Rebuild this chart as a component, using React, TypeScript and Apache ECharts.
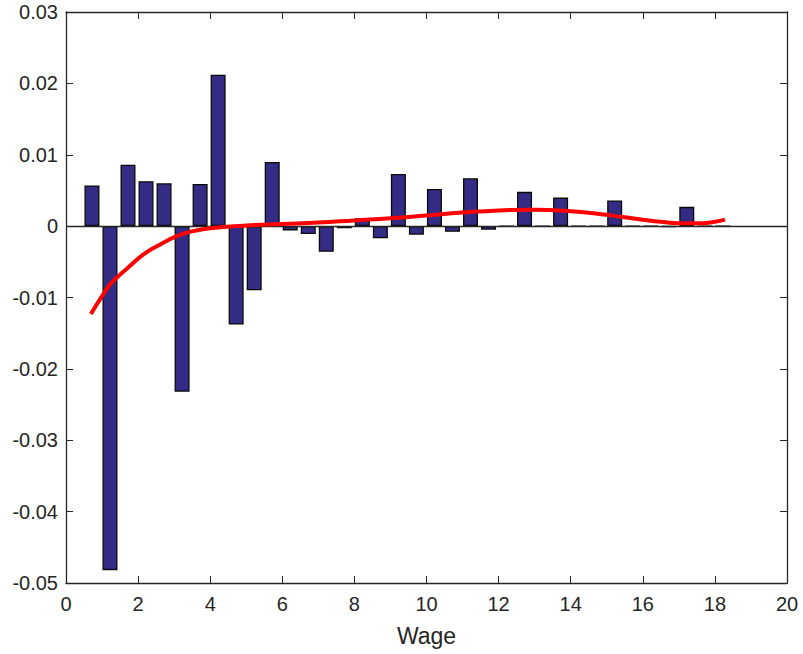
import React, { useEffect, useRef } from "react";
import * as echarts from "echarts";

const barX = [
  0.72, 1.22, 1.72, 2.22, 2.72, 3.22, 3.72, 4.22, 4.72, 5.22, 5.72, 6.22,
  6.72, 7.22, 7.72, 8.22, 8.72, 9.22, 9.72, 10.22, 10.72, 11.22, 11.72, 12.22,
  12.72, 13.22, 13.72, 14.22, 14.72, 15.22, 15.72, 16.22, 16.72, 17.22, 17.72, 18.22,
];
const barY = [
  0.0057, -0.0482, 0.0086, 0.0063, 0.006, -0.0232, 0.0059, 0.0212, -0.0138, -0.009, 0.009, -0.0006,
  -0.0011, -0.0036, -0.0003, 0.0011, -0.0017, 0.0073, -0.0012, 0.0052, -0.0008, 0.0067, -0.0005, 0,
  0.0048, 0, 0.004, 0, 0, 0.0036, 0, 0, -0.0001, 0.0027, 0, 0,
];
const fitX = [
  0.69, 1.0, 1.22, 1.5, 1.68, 2.14, 2.6, 3.07, 3.53, 4.0, 4.46, 5.0, 6.0, 7.0, 8.0, 9.0, 10.0,
  11.0, 12.0, 13.0, 14.0, 14.8, 15.4, 16.0, 16.5, 17.0, 17.5, 18.0, 18.28,
];
const fitY = [
  -0.0123, -0.0098, -0.0082, -0.0068, -0.006, -0.004, -0.0026, -0.0014, -0.0007, -0.0003, -0.0001,
  0.0001, 0.0003, 0.0005, 0.0008, 0.0011, 0.0015, 0.0019, 0.0022, 0.0023, 0.0021, 0.0017, 0.0013,
  0.0009, 0.0006, 0.0004, 0.0004, 0.0006, 0.0009,
];
const xTicks = [0, 2, 4, 6, 8, 10, 12, 14, 16, 18, 20];
const yTicks = [-0.05, -0.04, -0.03, -0.02, -0.01, 0, 0.01, 0.02, 0.03];
const xLabel = "Wage";

const FONT = "Liberation Sans";
const AXIS = "#262626";

export default function App() {
  const ref = useRef<HTMLDivElement>(null);
  useEffect(() => {
    if (!ref.current) return;
    const chart = echarts.init(ref.current, undefined, { renderer: "svg" });
    const axisCommon = {
      axisLine: { show: true, onZero: false, lineStyle: { color: AXIS, width: 1.3 } },
      axisTick: { show: true, inside: true, length: 7, lineStyle: { color: AXIS, width: 1 } },
      splitLine: { show: false },
    };
    const fmtY = (v: number) => {
      const r = Math.round(v * 100) / 100;
      return r === 0 ? "0" : r.toFixed(2);
    };
    chart.setOption({
      animation: false,
      backgroundColor: "#ffffff",
      grid: { left: 66, right: 16, top: 12, bottom: 71, containLabel: false },
      xAxis: [
        {
          type: "value",
          min: xTicks[0],
          max: xTicks[xTicks.length - 1],
          interval: 2,
          position: "bottom",
          ...axisCommon,
          axisLabel: { color: "#262626", fontFamily: FONT, fontSize: 20, margin: 11 },
          name: xLabel,
          nameLocation: "middle",
          nameGap: 41,
          nameTextStyle: { color: "#262626", fontFamily: FONT, fontSize: 23 },
        },
        {
          type: "value",
          min: xTicks[0],
          max: xTicks[xTicks.length - 1],
          interval: 2,
          position: "top",
          ...axisCommon,
          axisLabel: { show: false },
        },
      ],
      yAxis: [
        {
          type: "value",
          min: yTicks[0],
          max: yTicks[yTicks.length - 1],
          interval: 0.01,
          position: "left",
          ...axisCommon,
          axisLabel: { color: "#262626", fontFamily: FONT, fontSize: 20, margin: 8, formatter: fmtY },
        },
        {
          type: "value",
          min: yTicks[0],
          max: yTicks[yTicks.length - 1],
          interval: 0.01,
          position: "right",
          ...axisCommon,
          axisLabel: { show: false },
        },
      ],
      series: [
        {
          type: "bar",
          xAxisIndex: 0,
          yAxisIndex: 0,
          barWidth: 15,
          data: barX.map((x, i) => [x, barY[i]]),
          itemStyle: { color: "#342c84", borderColor: "#0a0a0a", borderWidth: 1.3 },
          markLine: {
            silent: true,
            symbol: "none",
            label: { show: false },
            lineStyle: { color: AXIS, width: 1.3, type: "solid" },
            data: [{ yAxis: 0 }],
          },
          z: 2,
        },
        {
          type: "line",
          xAxisIndex: 0,
          yAxisIndex: 0,
          smooth: true,
          showSymbol: false,
          data: fitX.map((x, i) => [x, fitY[i]]),
          lineStyle: { color: "#ff0000", width: 4 },
          z: 5,
        },
      ],
    });
    return () => chart.dispose();
  }, []);
  return (
    <div
      ref={ref}
      style={{ position: "fixed", left: 0, top: 0, width: 803, height: 654, background: "#fff" }}
    />
  );
}
